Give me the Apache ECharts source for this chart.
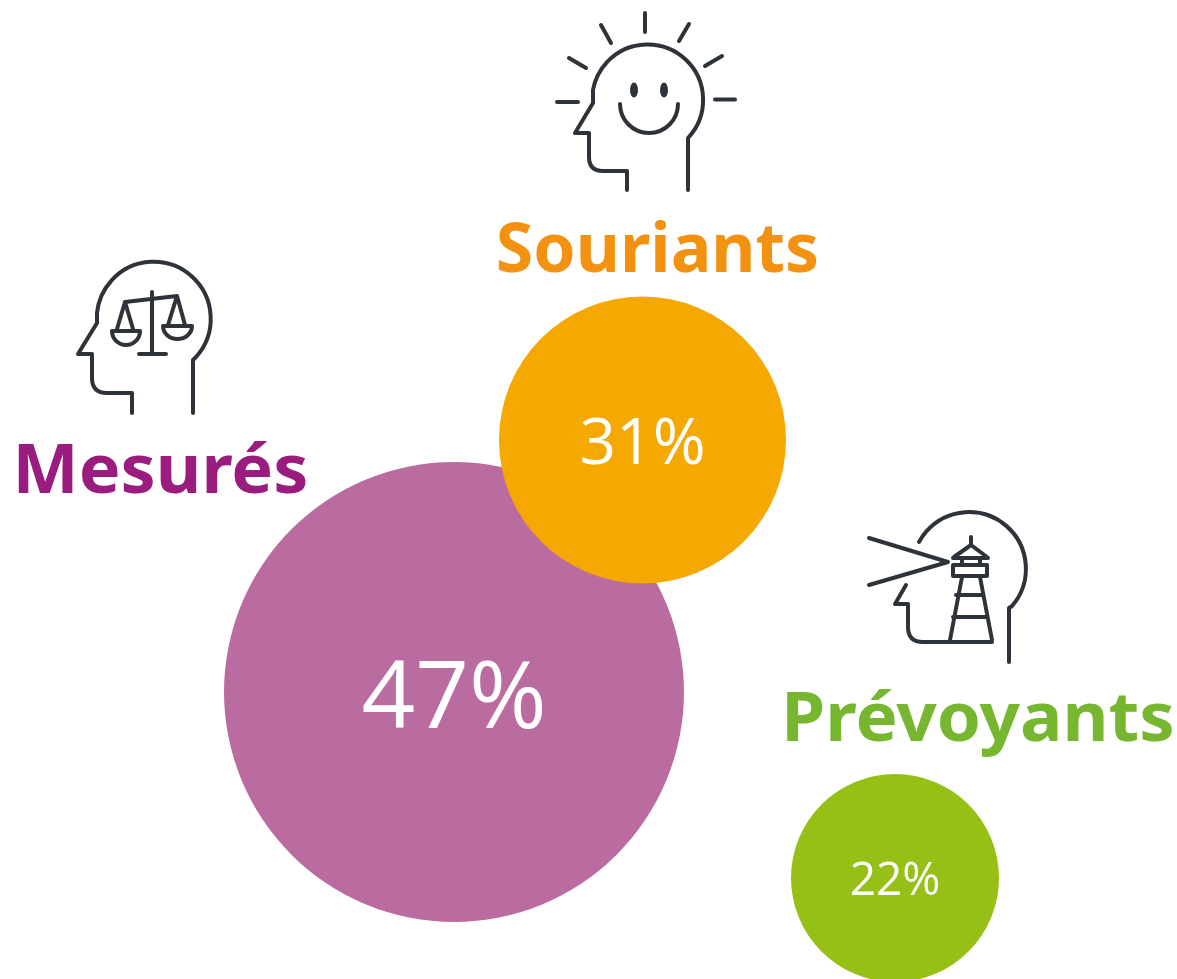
<!DOCTYPE html>
<html>
<head>
<meta charset="utf-8">
<script src="https://cdn.jsdelivr.net/npm/echarts@6/dist/echarts.min.js"></script>
<style>html,body{margin:0;padding:0;background:#fff;overflow:hidden}#c{width:1177px;height:979px}</style>
</head>
<body>
<div id="c"></div>
<script>
const categories = ['Mesurés', 'Souriants', 'Prévoyants'];
const shares = [47, 31, 22];
const bubbleX = [454, 642.5, 895];
const bubbleY = [692, 440, 878];

const diameters = [460, 287, 208];
const bubbleColors = ['#BA6CA0', '#F5A800', '#96C015'];
const labelSizes = [94, 64, 46];
const labelShift = [9, 6, 4];
const nameColors = ['#9A1C7E', '#F39110', '#76B72F'];
const namePlace = [
  {cx: 160.5, midY: 473, sx: 1.017},
  {cx: 657.5, midY: 252, sx: 0.985},
  {cx: 978, midY: 721, sx: 1.026}
];
const INK = '#2D3338';
const iconPaths = [
  // Mesurés: head with scales
  'M193,413 L193,360 L196,357 A57,57 0 1 0 97,313 L97,323 L78,354 L92,354 L92,378 Q92,393 107,393 L132,393 L132,413 ' +
  'M152,292 L152,354 M139,354 L166,354 M125,302 L177,296 ' +
  'M117,329 L125,302 L133,329 M168,325 L177,296 L185,325 ' +
  'M112,331 L140,331 A14,14 0 0 1 112,331 Z M163,326 L192,326 A14.5,13 0 0 1 163,326 Z',
  // Souriants: smiling head with rays
  'M688,190 L688,138 A55.5,55.5 0 1 0 593,90 L593,103 L575,133 L589,133 L589,157 Q589,171 603,171 L627,171 L627,190 ' +
  'M645,13 L645,32 M689,24 L679,41 M722,56 L705,66 M715,99.5 L735,99.5 M601,25 L611,43 M569,58 L586,68 M557,102 L578,102 ' +
  'M620,104 A29,29 0 0 0 678,104',
  // Prévoyants: head with lighthouse
  'M1009,662 L1009,608 L1012,606 A56.8,56.8 0 1 0 919,542 ' +
  'M869,538 L948,562 L869,585 ' +
  'M906,585 L895,604 L908,604 L908,627 Q908,642 923,642 L992,642 ' +
  'M962,577 L950,640 M980,577 L992,640 M953,565 L987,565 L987,576 L953,576 Z ' +
  'M956,595 L983,595 M953,617 L987,617 M953,558 L988,558 M954,557 L971,545 L987,557 M971,537 L971,545 ' +
  'M962,559 L962,565 M980,559 L980,565'
];
const eyes = [[634, 90], [664, 90]];

const chart = echarts.init(document.getElementById('c'), null, {renderer: 'canvas'});

const graphics = categories.map((name, i) => ({
  type: 'text',
  x: namePlace[i].cx,
  y: namePlace[i].midY,
  scaleX: namePlace[i].sx,
  style: {
    text: name,
    fill: nameColors[i],
    font: 'bold 69px "Noto Sans"',
    textAlign: 'center',
    textVerticalAlign: 'middle'
  },
  silent: true
}));

function renderIcons() {
  const children = iconPaths.map(d => ({
    type: 'path',
    shape: {pathData: d},
    style: {fill: null, stroke: INK, lineWidth: 4, lineCap: 'round', lineJoin: 'round'}
  }));
  eyes.forEach(e => children.push({
    type: 'path',
    shape: {pathData: `M${e[0]-4},${e[1]} a4,7.5 0 1 0 8,0 a4,7.5 0 1 0 -8,0 Z`},
    style: {fill: INK}
  }));
  return {type: 'group', children};
}

chart.setOption({
  animation: false,
  backgroundColor: '#ffffff',
  grid: {left: 0, right: 0, top: 0, bottom: 0},
  xAxis: {type: 'value', min: 0, max: 1177, show: false},
  yAxis: {type: 'value', min: 0, max: 979, inverse: true, show: false},
  graphic: graphics,
  series: [{
    type: 'scatter',
    clip: false,
    silent: true,
    data: shares.map((v, i) => ({
      name: categories[i],
      value: [bubbleX[i], bubbleY[i], v],
      symbolSize: diameters[i],
      itemStyle: {color: bubbleColors[i], opacity: 1},
      label: {
        show: true,
        position: 'inside',
        offset: [0, labelShift[i]],
        formatter: v + '%',
        color: '#fff',
        fontFamily: '"Open Sans"',
        fontSize: labelSizes[i]
      }
    }))
  }, {
    type: 'custom',
    silent: true,
    clip: false,
    data: [[0, 0]],
    renderItem: renderIcons
  }]
});
</script>
</body>
</html>
